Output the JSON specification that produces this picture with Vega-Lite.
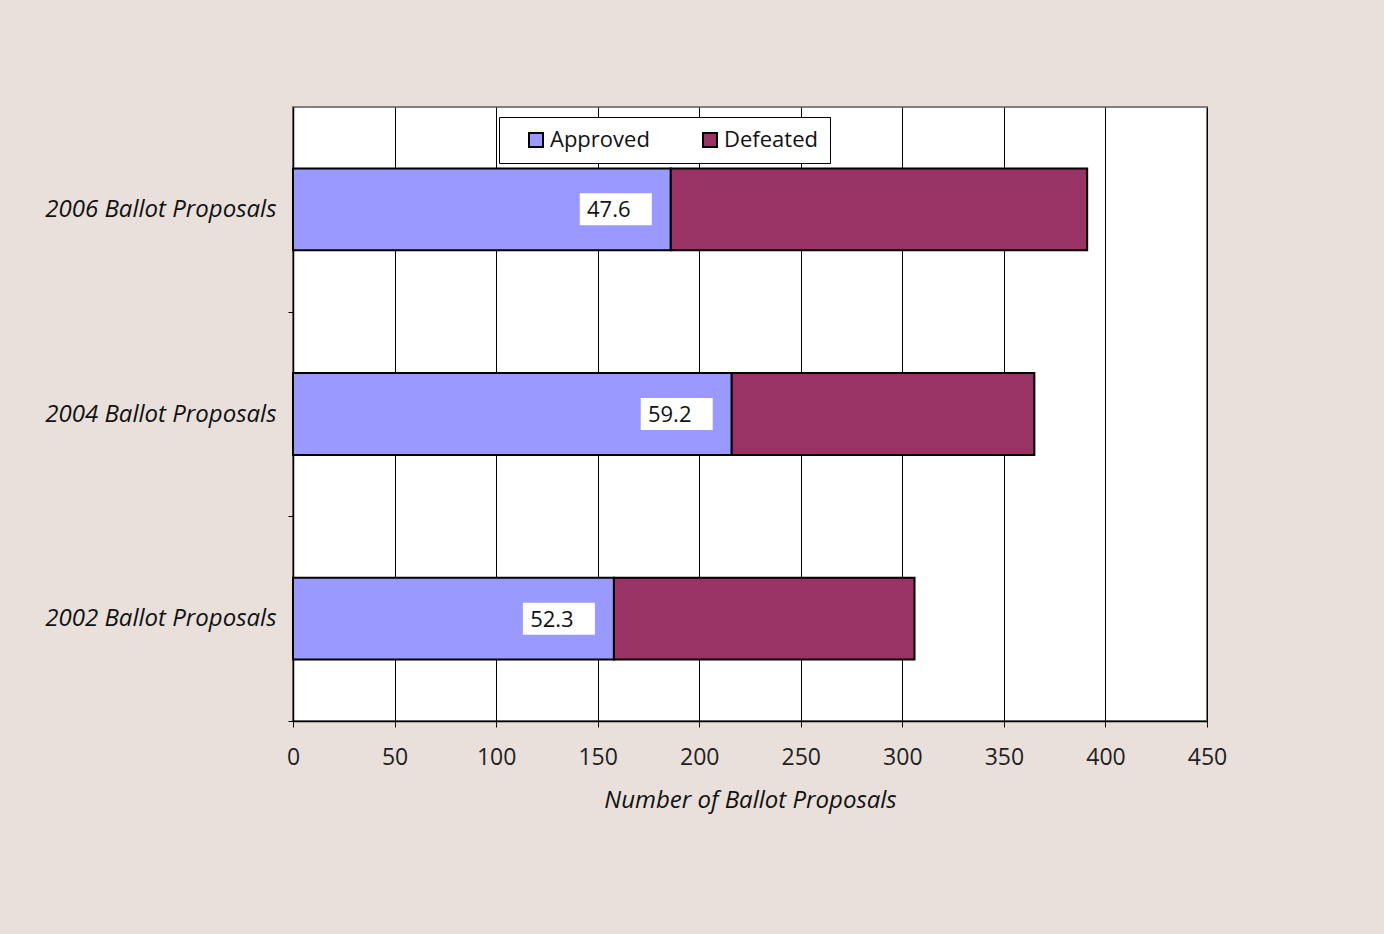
{
  "$schema": "https://vega.github.io/schema/vega-lite/v6.json",
  "width": 914,
  "height": 614,
  "autosize": {"type": "none"},
  "padding": {"left": 293, "top": 107, "right": 177, "bottom": 213},
  "background": "#E9E0DB",
  "config": {
    "font": "Open Sans",
    "view": {"fill": "white", "stroke": "#808080", "strokeWidth": 2}
  },
  "data": {
    "values": [
      {"year": "2006 Ballot Proposals", "status": "Approved", "value": 186, "pct": "47.6"},
      {"year": "2006 Ballot Proposals", "status": "Defeated", "value": 205, "pct": ""},
      {"year": "2004 Ballot Proposals", "status": "Approved", "value": 216, "pct": "59.2"},
      {"year": "2004 Ballot Proposals", "status": "Defeated", "value": 149, "pct": ""},
      {"year": "2002 Ballot Proposals", "status": "Approved", "value": 158, "pct": "52.3"},
      {"year": "2002 Ballot Proposals", "status": "Defeated", "value": 148, "pct": ""}
    ]
  },
  "encoding": {
    "y": {
      "field": "year",
      "type": "nominal",
      "sort": ["2006 Ballot Proposals", "2004 Ballot Proposals", "2002 Ballot Proposals"],
      "scale": {"paddingInner": 0.6, "paddingOuter": 0.3},
      "axis": {
        "title": null,
        "tickOffset": 102.33,
        "labelOffset": -102.33,
        "tickSize": 5,
        "tickColor": "#000",
        "domainColor": "#000",
        "domainWidth": 1.5,
        "labelFont": "Open Sans",
        "labelFontStyle": "italic",
        "labelFontSize": 24,
        "labelColor": "#111",
        "labelPadding": 12,
        "labelLimit": 400
      }
    }
  },
  "layer": [
    {
      "mark": {"type": "bar", "stroke": "#000", "strokeWidth": 2},
      "encoding": {
        "x": {
          "field": "value",
          "type": "quantitative",
          "stack": "zero",
          "scale": {"domain": [0, 450]},
          "axis": {
            "title": "Number of Ballot Proposals",
            "titleFont": "Open Sans",
            "titleFontStyle": "italic",
            "titleFontWeight": "normal",
            "titleFontSize": 24,
            "titleColor": "#111",
            "titlePadding": 19,
            "values": [0, 50, 100, 150, 200, 250, 300, 350, 400, 450],
            "grid": true,
            "gridColor": "#000",
            "gridWidth": 1,
            "gridOpacity": 1,
            "tickColor": "#000",
            "tickSize": 6,
            "domainColor": "#000",
            "domainWidth": 1.5,
            "labelFontSize": 23,
            "labelColor": "#222",
            "labelPadding": 19,
            "labelFlush": false
          }
        },
        "color": {
          "field": "status",
          "type": "nominal",
          "scale": {"domain": ["Approved", "Defeated"], "range": ["#9999FF", "#993366"]},
          "legend": {
            "title": null,
            "orient": "none",
            "legendX": 206,
            "legendY": 10,
            "direction": "horizontal",
            "fillColor": "white",
            "strokeColor": "#000",
            "padding": 12,
            "symbolType": "square",
            "symbolSize": 196,
            "symbolStrokeColor": "#000",
            "symbolStrokeWidth": 2,
            "symbolOpacity": 1,
            "symbolOffset": 14,
            "labelFontSize": 22,
            "labelColor": "#111",
            "labelOffset": 3,
            "columnPadding": 35
          }
        }
      }
    },
    {
      "transform": [{"filter": "datum.status == 'Approved'"}],
      "mark": {"type": "bar", "color": "white", "height": 32, "xOffset": -91, "x2Offset": -19},
      "encoding": {
        "x": {"field": "value", "type": "quantitative", "stack": null},
        "x2": {"field": "value"}
      }
    },
    {
      "transform": [{"filter": "datum.status == 'Approved'"}],
      "mark": {"type": "text", "fontSize": 22, "color": "#111", "align": "center", "dx": -62, "dy": 1},
      "encoding": {
        "x": {"field": "value", "type": "quantitative", "stack": null},
        "text": {"field": "pct"}
      }
    }
  ]
}
